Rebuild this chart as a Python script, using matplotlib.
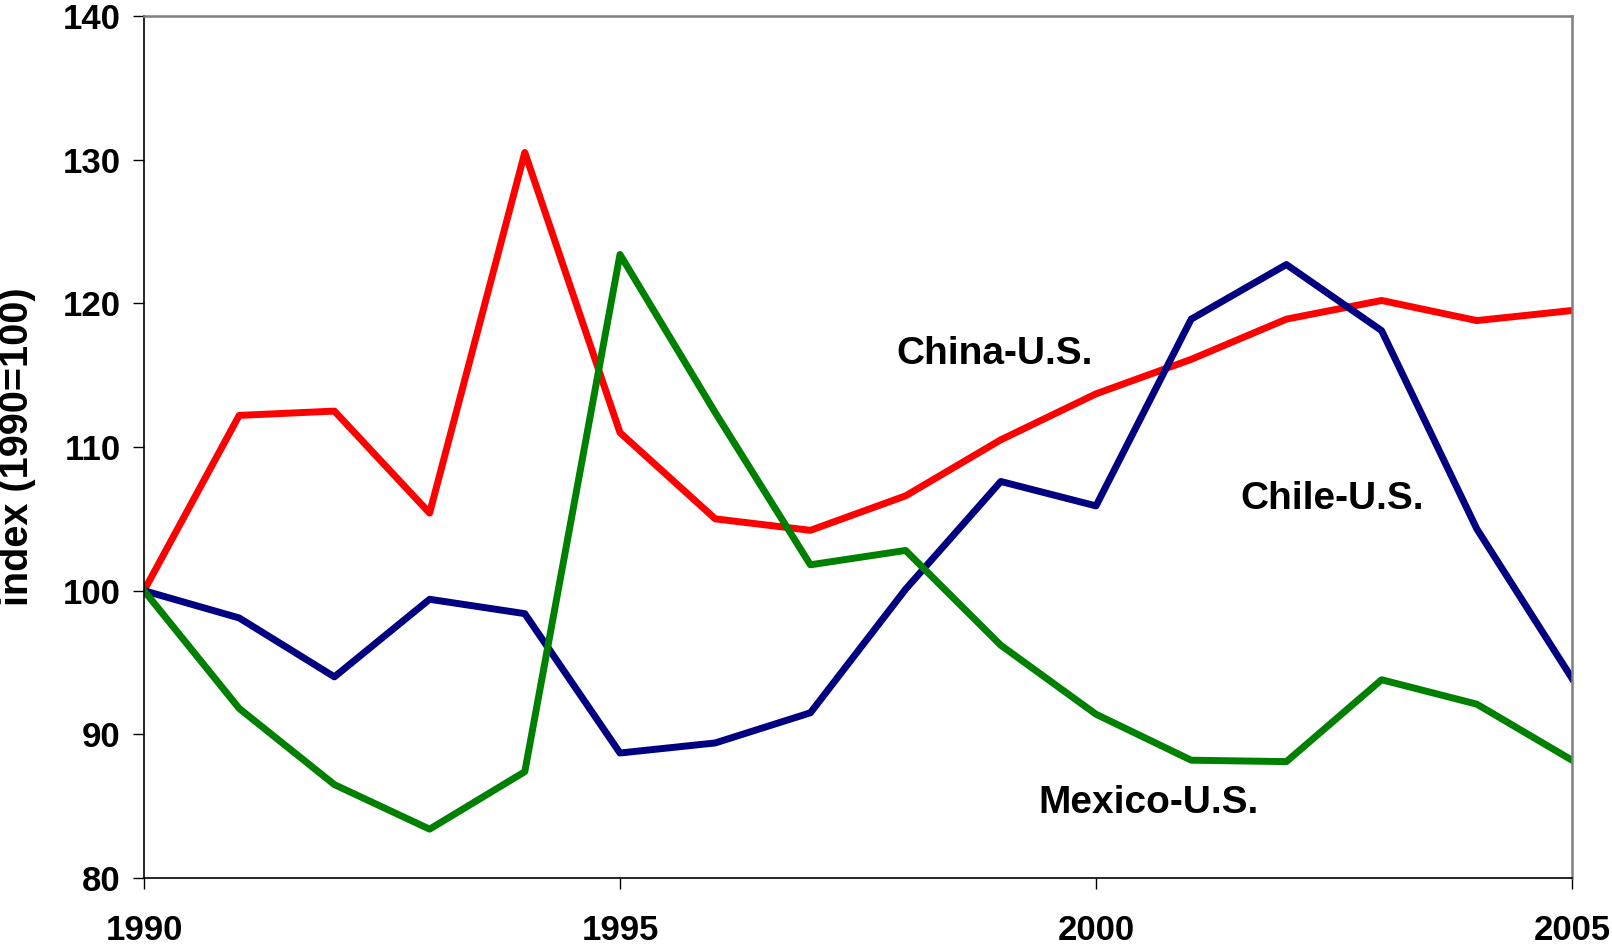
"""
Bilateral index chart: China, Chile and Mexico vs U.S. (1990=100).
"""
import matplotlib
matplotlib.use('Agg')
import matplotlib.pyplot as plt

# Data
years = list(range(1990, 2006))
china_us = [100, 112.2, 112.5, 105.4, 130.5, 111.0, 105.0, 104.2,
            106.6, 110.5, 113.7, 116.1, 118.9, 120.2, 118.8, 119.5]
chile_us = [100, 98.1, 94.0, 99.4, 98.4, 88.7, 89.4, 91.5,
            100.1, 107.6, 105.9, 118.9, 122.7, 118.1, 104.3, 93.9]
mexico_us = [100, 91.8, 86.5, 83.4, 87.4, 123.4, 112.4, 101.8,
             102.8, 96.2, 91.4, 88.2, 88.1, 93.8, 92.1, 88.2]

x_ticks = [1990, 1995, 2000, 2005]
y_ticks = [80, 90, 100, 110, 120, 130, 140]

plt.rcParams['font.family'] = ['Liberation Sans', 'DejaVu Sans']
plt.rcParams['font.weight'] = 'bold'

W, H = 1612, 948
fig = plt.figure(figsize=(W / 100, H / 100), dpi=100)
ax = fig.add_axes([144 / W, 1 - 878 / H, (1572 - 144) / W, (878 - 16) / H])

# Plot series (green drawn last, on top)
ax.plot(years, china_us, color='#FF0000', linewidth=5.0, solid_joinstyle='round')
ax.plot(years, chile_us, color='#000080', linewidth=5.0, solid_joinstyle='round')
ax.plot(years, mexico_us, color='#008000', linewidth=5.0, solid_joinstyle='round')

ax.set_xlim(1990, 2005)
ax.set_ylim(80, 140)
ax.set_xticks(x_ticks)
ax.set_yticks(y_ticks)

# Spines: black left/bottom, gray top/right
for side in ['left', 'bottom']:
    ax.spines[side].set_color('black')
    ax.spines[side].set_linewidth(1.2)
for side in ['top', 'right']:
    ax.spines[side].set_color('#808080')
    ax.spines[side].set_linewidth(1.8)

ax.tick_params(axis='both', direction='out', length=8, width=1.0,
               labelsize=25, colors='black')
ax.tick_params(axis='y', pad=9)
ax.tick_params(axis='x', pad=18)
for lbl in ax.get_xticklabels() + ax.get_yticklabels():
    lbl.set_fontweight('bold')

ax.set_ylabel('index (1990=100)', fontsize=28.5, fontweight='bold', labelpad=19)

# Series labels
ax.text(1998.93, 116.5, 'China-U.S.', fontsize=28, fontweight='bold',
        ha='center', va='center')
ax.text(2002.48, 106.4, 'Chile-U.S.', fontsize=28, fontweight='bold',
        ha='center', va='center')
ax.text(2000.55, 85.2, 'Mexico-U.S.', fontsize=28, fontweight='bold',
        ha='center', va='center')

fig.savefig('out.png', dpi=100)
plt.close(fig)
